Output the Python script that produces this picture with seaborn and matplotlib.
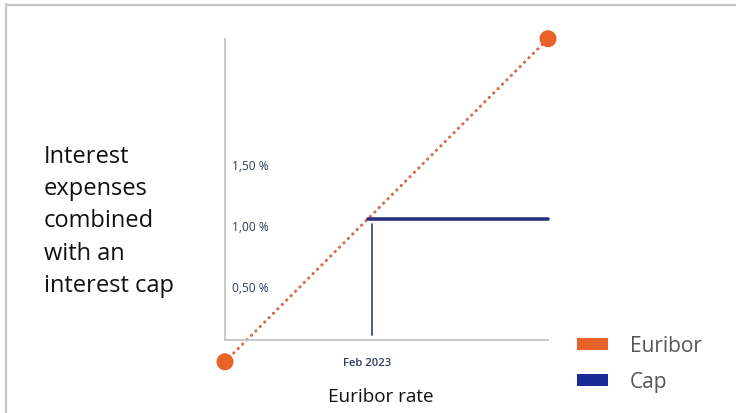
import matplotlib
matplotlib.use("Agg")
import matplotlib.pyplot as plt
import seaborn as sns
import pandas as pd
from matplotlib.patches import Patch
from matplotlib.lines import Line2D

# ---- data ----
euribor_x = [0.0, 10.0]
euribor_y = [-0.18, 2.49]
cap_x = [4.42, 10.0]
cap_y = [1.0, 1.0]
cap_stem_x = [4.55, 4.55]
cap_stem_y = [0.04, 0.96]
ytick_vals = [0.5, 1.0, 1.5]
ytick_labels = ["0,50 %", "1,00 %", "1,50 %"]
xtick_vals = [4.40]
xtick_labels = ["Feb 2023"]
series_names = ["Euribor", "Cap"]
ylabel_lines = ["Interest", "expenses", "combined", "with an", "interest cap"]
xlabel = "Euribor rate"

W, H = 736, 414
sns.set_theme(style="white")
plt.rcParams["font.family"] = ["Open Sans", "DejaVu Sans"]

fig = plt.figure(figsize=(W / 100, H / 100), dpi=100)
# axes in pixel box: left 225, right 548, top 40, bottom 341
ax = fig.add_axes([225 / W, 1 - 341 / H, (548 - 225) / W, (341 - 40) / H])
ax.set_xlim(0, 10)
ax.set_ylim(0, (341 - 40) / 121)
ax.patch.set_alpha(0)

orange = "#e8622a"
dot_col = "#d2714f"
navy = "#27317f"

eur = pd.DataFrame({"x": euribor_x, "y": euribor_y})
sns.lineplot(data=eur, x="x", y="y", ax=ax, color=dot_col, linewidth=2.3,
             linestyle=(0, (0.05, 1.9)), dash_capstyle="round",
             estimator=None, sort=False, clip_on=False)
sns.scatterplot(data=eur, x="x", y="y", ax=ax, color=orange, s=150,
                edgecolor="none", clip_on=False, zorder=5)

cap = pd.DataFrame({"x": cap_x, "y": cap_y})
sns.lineplot(data=cap, x="x", y="y", ax=ax, color=navy, linewidth=2.6,
             estimator=None, sort=False, clip_on=False)
stem = pd.DataFrame({"x": cap_stem_x, "y": cap_stem_y})
sns.lineplot(data=stem, x="x", y="y", ax=ax, color="#3b4b8c", linewidth=1.3,
             estimator=None, sort=False, clip_on=False)

# spines
for s in ["top", "right"]:
    ax.spines[s].set_visible(False)
for s in ["left", "bottom"]:
    ax.spines[s].set_color("#c4c4c4")
    ax.spines[s].set_linewidth(1.3)

ax.set_xlabel("")
ax.set_ylabel("")
ax.set_yticks([])
ax.set_xticks(xtick_vals)
ax.set_xticklabels(xtick_labels, fontsize=8.1, color="#2c3a5c", fontweight="semibold")
ax.tick_params(axis="x", length=0, pad=12)

for v, lab in zip(ytick_vals, ytick_labels):
    ax.annotate(lab, xy=(0, v), xytext=(7, -7.5), textcoords="offset pixels",
                ha="left", va="center", fontsize=8.6, color="#2c3a5c")

# y label block
for i, line in enumerate(ylabel_lines):
    fig.text(44 / W, 1 - (157 + 32.2 * i) / H, line, ha="left", va="center",
             fontsize=17, color="#111111")

fig.text(381 / W, 1 - 397 / H, xlabel, ha="center", va="center",
         fontsize=13.6, color="#111111")

# legend
handles = [Patch(facecolor=orange, edgecolor="none"),
           Patch(facecolor="#1a2a96", edgecolor="none")]
fig.legend(handles, series_names, loc="upper left",
           bbox_to_anchor=(577 / W, 1 - 336 / H), frameon=False,
           borderpad=0, borderaxespad=0,
           fontsize=15, labelcolor="#555555", handlelength=1.5,
           handleheight=0.5, handletextpad=1.05, labelspacing=0.74)

# outer frame (top and left edges visible)
fig.add_artist(Line2D([6 / W, 1], [1 - 5.5 / H, 1 - 5.5 / H], color="#c8c8c8",
                      linewidth=1.6, transform=fig.transFigure))
fig.add_artist(Line2D([6.5 / W, 6.5 / W], [0, 1 - 5 / H], color="#c8c8c8",
                      linewidth=1.6, transform=fig.transFigure))

fig.savefig("out.png", dpi=100)
